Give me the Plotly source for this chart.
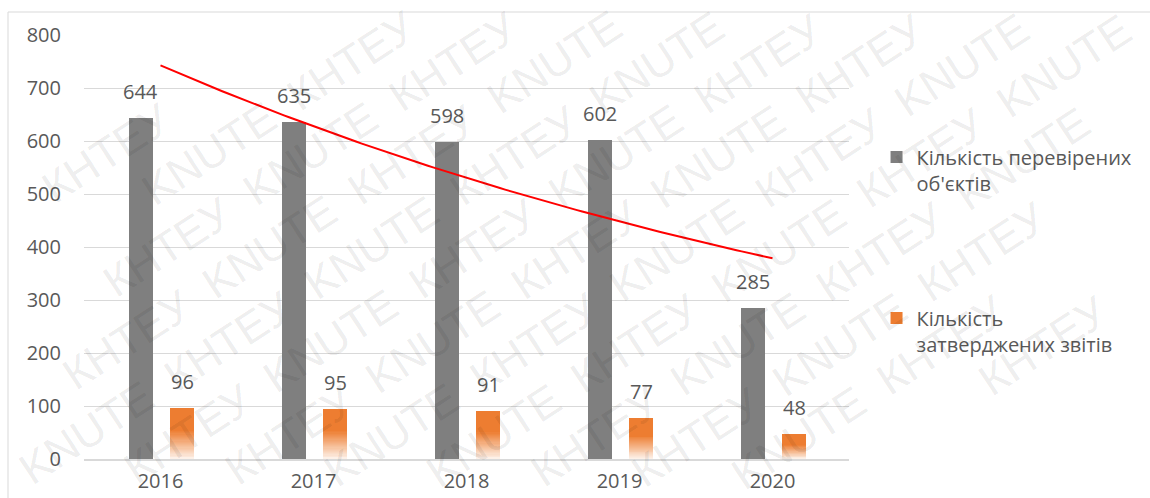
import math
import numpy as np
import plotly.graph_objects as go

# ---- data ----
years = [2016, 2017, 2018, 2019, 2020]
checked_objects = [644, 635, 598, 602, 285]
approved_reports = [96, 95, 91, 77, 48]
series_names = ["Кількість перевірених<br>об'єктів", "Кількість<br>затверджених звітів"]
watermark_words = ["КНТЕУ", "KNUTE"]

GRAY = "#7f7f7f"
ORANGE = "#ed7d31"
TEXT = "#595959"
GRID = "#d9d9d9"
FONT = "Open Sans"

# plot-area geometry in pixels (1150 x 498 canvas)
W, H = 1150, 498
ML, MR, MT, MB = 84, 301, 35, 39
PW, PH = W - ML - MR, H - MT - MB


def to_paper(px, py):
    return (px - ML) / PW, (H - MB - py) / PH


# bar placement inside each year slot (in x-axis units)
BAR_W_GRAY, OFF_GRAY = 0.157, -0.209
BAR_W_OR, OFF_OR = 0.163, 0.059

fig = go.Figure()

fig.add_trace(go.Bar(
    x=years, y=checked_objects, name=series_names[0], legendgroup="a",
    width=BAR_W_GRAY, offset=OFF_GRAY, marker=dict(color=GRAY, line=dict(width=0)),
    hoverinfo="x+y",
))
fig.add_trace(go.Bar(
    x=years, y=approved_reports, name=series_names[1], legendgroup="b",
    width=BAR_W_OR, offset=OFF_OR, marker=dict(color=ORANGE, line=dict(width=0)),
    hoverinfo="x+y",
))


# gradient fill: lower part of each orange bar fades towards white
def lerp_color(c1, c2, t):
    a = [int(c1[i:i + 2], 16) for i in (1, 3, 5)]
    b = [int(c2[i:i + 2], 16) for i in (1, 3, 5)]
    return "rgb({},{},{})".format(*[round(a[i] + (b[i] - a[i]) * t) for i in range(3)])


steps = 24
fade_share = 0.55
for k in range(1, steps + 1):
    frac = 1 - (k - 1) / steps
    heights = [v * fade_share * frac for v in approved_reports]
    fig.add_trace(go.Bar(
        x=years, y=heights, width=BAR_W_OR, offset=OFF_OR,
        marker=dict(color=lerp_color(ORANGE, "#fdf1e8", k / steps), line=dict(width=0)),
        showlegend=False, hoverinfo="skip",
    ))

# exponential trend of checked objects
t = np.arange(1, len(years) + 1)
slope, intercept = np.polyfit(t, np.log(checked_objects), 1)
tt = np.linspace(1, len(years), 120)
fig.add_trace(go.Scatter(
    x=years[0] + (tt - 1), y=np.exp(intercept + slope * tt), mode="lines",
    line=dict(color="#ff0000", width=2), showlegend=False, hoverinfo="skip",
))

annotations = []
# value labels above bars
for yr, v in zip(years, checked_objects):
    annotations.append(dict(x=yr + OFF_GRAY + BAR_W_GRAY / 2, y=v, text=str(v), showarrow=False,
                            yanchor="bottom", yshift=11, font=dict(family=FONT, size=20, color=TEXT)))
for yr, v in zip(years, approved_reports):
    annotations.append(dict(x=yr + OFF_OR + BAR_W_OR / 2, y=v, text=str(v), showarrow=False,
                            yanchor="bottom", yshift=11, font=dict(family=FONT, size=20, color=TEXT)))

# diagonal watermark, tiled word by word so each word stays on the canvas
ang = 33
dx, dy = math.cos(math.radians(ang)), -math.sin(math.radians(ang))
nx, ny = math.sin(math.radians(ang)), math.cos(math.radians(ang))
step_along, step_across = 170, 56
for r in range(-14, 15):
    for c in range(-10, 11):
        shift = c + (r % 2) * 0.5
        cx = 575 + r * step_across * nx + shift * step_along * dx
        cy = 249 + r * step_across * ny + shift * step_along * dy
        if 76 <= cx <= W - 76 and 60 <= cy <= H - 60:
            px_, py_ = to_paper(cx, cy)
            annotations.append(dict(
                x=px_, y=py_, xref="paper", yref="paper", xanchor="center", yanchor="middle",
                text=watermark_words[(c + r) % 2], showarrow=False, textangle=-ang,
                font=dict(family="Liberation Sans", size=44, color="rgba(0,0,0,0.085)"),
            ))

# outer chart frame
x0, y1 = to_paper(8, 12)
x1, y0 = to_paper(1160, 510)
shapes = [dict(type="rect", xref="paper", yref="paper", x0=x0, x1=x1, y0=y0, y1=y1,
               line=dict(color=GRID, width=1), layer="below")]

fig.update_layout(
    width=W, height=H,
    margin=dict(l=ML, r=MR, t=MT, b=MB, pad=0, autoexpand=False),
    paper_bgcolor="white", plot_bgcolor="white",
    barmode="overlay", bargap=0,
    font=dict(family=FONT, size=20, color=TEXT),
    showlegend=True,
    legend=dict(
        x=1.036, y=0.758, xanchor="left", yanchor="top",
        traceorder="grouped", tracegroupgap=106, valign="top",
        font=dict(family=FONT, size=20, color=TEXT), bgcolor="rgba(0,0,0,0)",
    ),
    xaxis=dict(
        range=[years[0] - 0.5, years[-1] + 0.5], tickvals=years, ticktext=[str(y) for y in years],
        showgrid=False, zeroline=False, showline=True, linecolor=GRID, linewidth=2,
        ticks="outside", ticklen=3, tickcolor="rgba(0,0,0,0)", automargin=False,
        tickfont=dict(family=FONT, size=20, color=TEXT),
    ),
    yaxis=dict(
        range=[0, 800], dtick=100, showgrid=True, gridcolor=GRID, gridwidth=1.3,
        zeroline=False, showline=False, ticklabelstandoff=22, automargin=False,
        tickfont=dict(family=FONT, size=20, color=TEXT),
    ),
    annotations=annotations,
    shapes=shapes,
)

fig.write_html("out.html")
